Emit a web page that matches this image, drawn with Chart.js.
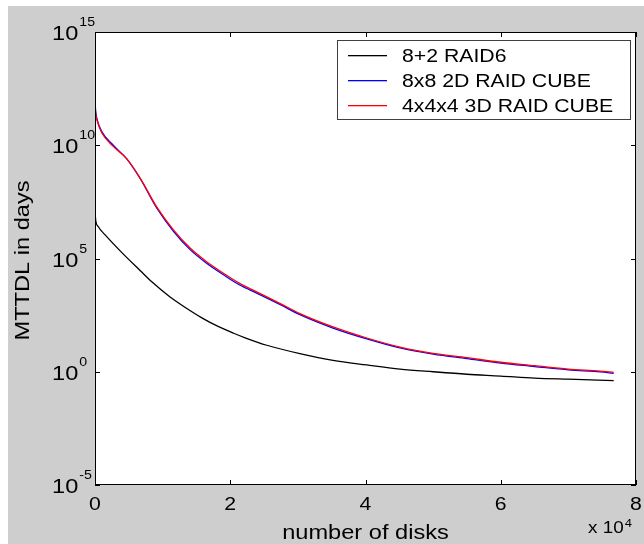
<!DOCTYPE html>
<html lang="en">
<head>
    <meta charset="UTF-8">
    <title>MTTDL vs number of disks</title>
    <script src="https://cdn.jsdelivr.net/npm/chart.js"></script>
    <style>
        html, body { margin: 0; padding: 0; background: #fff; }
        #wrap { width: 644px; height: 544px; }
    </style>
</head>
<body>
    <div id="wrap"><canvas id="mttdlChart" width="644" height="544"></canvas></div>

    <script>
        // number of disks and log10(MTTDL in days)
        const raid6Disks = [0, 100, 500, 1500, 3900, 6700, 8400, 11100, 13300, 15800, 18200, 20500,
            22200, 25400, 30300, 35200, 40200, 45100, 50000, 55000, 60000, 65000, 70000, 76700];
        const raid6Exp = [7.07, 6.7, 6.4, 6.04, 5.28, 4.46, 3.97, 3.3, 2.85, 2.38, 2.0, 1.7,
            1.5, 1.17, 0.8, 0.5, 0.3, 0.12, 0.0, -0.11, -0.19, -0.28, -0.33, -0.39];

        const cubeDisks = [0, 100, 300, 1000, 2700, 4700, 6700, 9100, 11600, 14100, 16500, 19000, 21400,
            23900, 27400, 30300, 35200, 40200, 45100, 50000, 55000, 60000, 65000, 70000, 74700, 76700];
        const cube2dExp = [12.0, 11.5, 11.15, 10.6, 10.0, 9.4, 8.52, 7.24, 6.2, 5.38, 4.79, 4.28, 3.83,
            3.47, 2.96, 2.52, 1.93, 1.45, 1.05, 0.78, 0.58, 0.38, 0.23, 0.08, -0.01, -0.07];
        const cube3dExp = [11.85, 11.4, 11.1, 10.55, 9.95, 9.4, 8.54, 7.29, 6.26, 5.45, 4.86, 4.35, 3.9,
            3.53, 3.01, 2.57, 1.98, 1.49, 1.09, 0.81, 0.62, 0.42, 0.27, 0.12, 0.03, -0.03];

        const seriesNames = ["8+2 RAID6", "8x8 2D RAID CUBE", "4x4x4 3D RAID CUBE"];
        const seriesColors = ["#000000", "#0000ff", "#ff0000"];
        const xTicks = [0, 20000, 40000, 60000, 80000];
        const xTickLabels = ["0", "2", "4", "6", "8"];
        const yTickExp = [-5, 0, 5, 10, 15];

        const FONT = '"Liberation Sans", Arial, sans-serif';
        const STRETCH = 1.18;

        function toPoints(xs, exps) {
            return xs.map((x, i) => ({ x: x, y: Math.pow(10, exps[i]) }));
        }

        // matlab text looks a bit wide, so squeeze it out horizontally
        function text(ctx, str, x, y, size, align) {
            ctx.save();
            ctx.font = size + "px " + FONT;
            ctx.textBaseline = "alphabetic";
            const w = ctx.measureText(str).width * STRETCH;
            let left = x;
            if (align === "center") left = x - w / 2;
            if (align === "right") left = x - w;
            ctx.translate(left, y);
            ctx.scale(STRETCH, 1);
            ctx.textAlign = "left";
            ctx.fillStyle = "#000";
            ctx.fillText(str, 0, 0);
            ctx.restore();
            return w;
        }

        const matlabFrame = {
            id: "matlabFrame",
            beforeDraw(chart) {
                const ctx = chart.ctx;
                const a = chart.chartArea;
                ctx.save();
                ctx.fillStyle = "#fff";
                ctx.fillRect(0, 0, chart.width, chart.height);
                ctx.fillStyle = "#cecece";
                ctx.fillRect(8, 6, chart.width - 8, chart.height - 6);
                ctx.fillStyle = "#fff";
                ctx.fillRect(a.left, a.top, a.right - a.left, a.bottom - a.top);
                ctx.restore();
            },
            afterDraw(chart) {
                const ctx = chart.ctx;
                const a = chart.chartArea;
                const xs = chart.scales.x;
                const ys = chart.scales.y;
                ctx.save();
                ctx.strokeStyle = "#000";
                ctx.lineWidth = 1;
                ctx.strokeRect(a.left + 0.5, a.top + 0.5, a.right - a.left - 1, a.bottom - a.top - 1);

                ctx.beginPath();
                xTicks.forEach(v => {
                    const px = Math.round(xs.getPixelForValue(v)) + 0.5;
                    ctx.moveTo(px, a.bottom); ctx.lineTo(px, a.bottom - 5);
                    ctx.moveTo(px, a.top); ctx.lineTo(px, a.top + 5);
                });
                yTickExp.forEach(e => {
                    const py = Math.round(ys.getPixelForValue(Math.pow(10, e))) + 0.5;
                    ctx.moveTo(a.left, py); ctx.lineTo(a.left + 5, py);
                    ctx.moveTo(a.right, py); ctx.lineTo(a.right - 5, py);
                });
                ctx.stroke();

                // tick labels
                xTicks.forEach((v, i) => {
                    text(ctx, xTickLabels[i], xs.getPixelForValue(v), a.bottom + 25, 18, "center");
                });
                yTickExp.forEach(e => {
                    const py = ys.getPixelForValue(Math.pow(10, e));
                    const w = text(ctx, "10", 52, py + 8, 20, "left");
                    text(ctx, String(e), 52 + w + 1, py - 6, 12, "left");
                });
                const w10 = text(ctx, "x 10", 588, a.bottom + 48, 16, "left");
                text(ctx, "4", 588 + w10 + 1, a.bottom + 42, 11, "left");

                // axis titles
                text(ctx, "number of disks", (a.left + a.right) / 2, 539, 20, "center");
                ctx.save();
                ctx.translate(29, (a.top + a.bottom) / 2 + 2);
                ctx.rotate(-Math.PI / 2);
                text(ctx, "MTTDL in days", 0, 0, 20, "center");
                ctx.restore();

                // legend box
                const lx = 337, ly = 40, lw = 293, lh = 79;
                ctx.fillStyle = "#fff";
                ctx.fillRect(lx, ly, lw, lh);
                ctx.strokeStyle = "#404040";
                ctx.strokeRect(lx + 0.5, ly + 0.5, lw, lh);
                seriesNames.forEach((name, i) => {
                    const ry = 55 + i * 25;
                    ctx.fillStyle = seriesColors[i];
                    ctx.fillRect(348, ry, 39, 1.3);
                    text(ctx, name, 402, ry + 6.5, 18, "left");
                });
                ctx.restore();
            }
        };

        const datasets = [
            { label: seriesNames[0], data: toPoints(raid6Disks, raid6Exp), borderColor: seriesColors[0], order: 2 },
            { label: seriesNames[1], data: toPoints(cubeDisks, cube2dExp), borderColor: seriesColors[1], order: 1 },
            { label: seriesNames[2], data: toPoints(cubeDisks, cube3dExp), borderColor: seriesColors[2], order: 0 }
        ].map(d => Object.assign(d, {
            borderWidth: 1.3,
            pointRadius: 0,
            fill: false,
            cubicInterpolationMode: "monotone"
        }));

        new Chart(document.getElementById("mttdlChart").getContext("2d"), {
            type: "line",
            data: { datasets: datasets },
            options: {
                responsive: false,
                animation: false,
                devicePixelRatio: 1,
                layout: { padding: { left: 95, top: 32, right: 8, bottom: 59 } },
                plugins: { legend: { display: false }, tooltip: { enabled: false } },
                scales: {
                    x: { type: "linear", min: 0, max: 80000, display: false },
                    y: { type: "logarithmic", min: 1e-5, max: 1e15, display: false }
                }
            },
            plugins: [matlabFrame]
        });
    </script>
</body>
</html>
